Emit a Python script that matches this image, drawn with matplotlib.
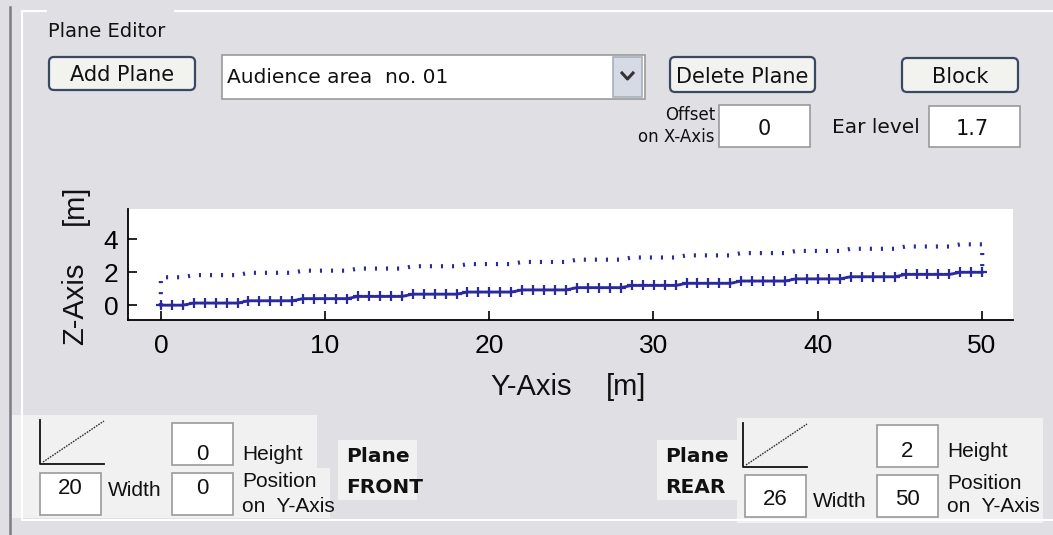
import numpy as np
import matplotlib.pyplot as plt
from matplotlib.patches import Rectangle, FancyBboxPatch

# seating steps: floor level of each step [m] and rows on it
step_levels = [0.0, 0.13, 0.27, 0.40, 0.53, 0.67, 0.80, 0.93,
               1.07, 1.20, 1.33, 1.47, 1.60, 1.73, 1.87, 2.0]
rows_per_step = [3, 5, 5, 5, 5, 5, 5, 5, 5, 5, 5, 5, 5, 5, 5, 3]
row_pitch = 0.667          # m between rows along Y
ear_level = 1.7            # m above floor

x_ticks = [0, 10, 20, 30, 40, 50]
z_ticks = [0, 2, 4]

# GUI field values
offset_x = '0'
front_vals = {'height': '0', 'width': '20', 'pos': '0'}
rear_vals = {'height': '2', 'width': '26', 'pos': '50'}
plane_name = 'Audience area  no. 01'

BG = '#e0dfe3'
PANEL = '#f1f1f1'
BLUE = '#2a2a9e'
SANS = ['Liberation Sans', 'DejaVu Sans']
REG = ['DejaVu Sans']

floor_z = np.repeat(step_levels, rows_per_step)
row_y = np.arange(len(floor_z)) * row_pitch
ear_z = floor_z + ear_level

fig = plt.figure(figsize=(10.53, 5.35), dpi=100, facecolor=BG)

# overlay in pixel coords for the GUI bits
g = fig.add_axes([0, 0, 1, 1], zorder=0)
g.set_xlim(0, 1053)
g.set_ylim(535, 0)
g.axis('off')
g.set_facecolor(BG)


def box(x0, y0, x1, y1, fc='white', ec='#9a9a9a', lw=1.2):
    g.add_patch(Rectangle((x0, y0), x1 - x0, y1 - y0, fc=fc, ec=ec, lw=lw))


def button(x0, y0, x1, y1, label, cx):
    g.add_patch(FancyBboxPatch((x0, y0), x1 - x0, y1 - y0,
                               boxstyle='round,pad=0,rounding_size=5',
                               fc='#f2f2ee', ec='#3b4862', lw=1.6))
    g.text(cx, y1 - 9, label, ha='center', va='baseline', fontsize=15,
           family=REG, color='#111111')


def txt(x, y, s, size=12, ha='left', family=SANS, weight='normal'):
    g.text(x, y, s, ha=ha, va='baseline', fontsize=size, family=family,
           weight=weight, color='#111111')


# frame and group box
g.plot([10, 10], [7, 535], color='#7c7c86', lw=1.8)
g.plot([22, 46], [11, 11], color='white', lw=1.5)
g.plot([175, 1053], [11, 11], color='white', lw=1.5)
g.plot([22, 22], [11, 520], color='white', lw=1.5)
g.plot([22, 1053], [520, 520], color='white', lw=1.5)
txt(48, 37, 'Plane Editor', size=14, family=REG)

# top row
button(49, 57, 195, 90, 'Add Plane', 122)
box(222, 55, 645, 99)
txt(227, 83, plane_name, size=14.5, family=REG)
box(613, 57, 642, 97, fc='#d6dae5', ec='#a8aebb')
g.plot([622, 627.5, 633], [73, 79, 73], color='#333333', lw=2.2)
button(670, 57, 815, 92, 'Delete Plane', 742)
button(902, 58, 1018, 92, 'Block', 960)

txt(715, 120, 'Offset', size=12, ha='right', family=REG)
txt(715, 142, 'on X-Axis', size=12, ha='right', family=REG)
box(719, 105, 810, 147)
txt(764, 135, offset_x, size=15, ha='center', family=REG)
txt(832, 133, 'Ear level', size=14.5, family=REG)
box(929, 106, 1020, 147)
txt(972, 135, str(ear_level), size=15, ha='center', family=REG)

# z / y axis titles
g.text(83, 345, 'Z-Axis', rotation=90, rotation_mode='anchor', ha='left',
       va='baseline', fontsize=21, family=SANS, color='#111111')
g.text(83, 225, '[m]', rotation=90, rotation_mode='anchor', ha='left',
       va='baseline', fontsize=21, family=SANS, color='#111111')
txt(490, 395, 'Y-Axis', size=21)
txt(606, 395, '[m]', size=21)


def plane_panel(side):
    if side == 'front':
        g.add_patch(Rectangle((12, 415), 305, 103, fc=PANEL, ec='none'))
        g.add_patch(Rectangle((232, 468), 98, 50, fc=PANEL, ec='none'))
        g.add_patch(Rectangle((338, 440), 79, 60, fc=PANEL, ec='none'))
        ix, hx, wx, ly = 40, 172, 40, 0
        vals = front_vals
        tx, tag = 346, 'FRONT'
        hy = (423, 465, 460)
        ry = (473, 515, 494)
    else:
        g.add_patch(Rectangle((737, 418), 306, 105, fc=PANEL, ec='none'))
        g.add_patch(Rectangle((657, 440), 80, 60, fc=PANEL, ec='none'))
        ix, hx, wx, ly = 743, 877, 745, 3
        vals = rear_vals
        tx, tag = 665, 'REAR'
        hy = (425, 467, 457)
        ry = (475, 517, 505)
    # small slope icon
    g.plot([ix, ix, ix + 64], [420 + ly, 464 + ly, 464 + ly], color='#111111', lw=1.3)
    g.plot([ix + 3, ix + 64], [462 + ly, 421 + ly], color='#333333', lw=1.0,
           linestyle=(0, (1.2, 0.8)))
    # height
    box(hx, hy[0], hx + 61, hy[1])
    txt(hx + 30, hy[2], vals['height'], size=16, ha='center')
    txt(hx + 70, hy[2], 'Height', size=15)
    # width
    box(wx, ry[0], wx + 61, ry[1])
    txt(wx + 30, ry[2], vals['width'], size=16, ha='center')
    txt(wx + 68, ry[2] + 2, 'Width', size=15)
    # position
    box(hx, ry[0], hx + 61, ry[1])
    txt(hx + 30, ry[2], vals['pos'], size=16, ha='center')
    txt(hx + 70, ry[0] + 14, 'Position', size=15)
    txt(hx + 70, 512, 'on  Y-Axis', size=15)
    # plane tag
    txt(tx, 462, 'Plane', size=14.5, family=REG, weight='bold')
    txt(tx, 493, tag, size=14.5, family=REG, weight='bold')


plane_panel('front')
plane_panel('rear')

# the profile plot
W, H = 1053, 535
ax = fig.add_axes([128 / W, (H - 320) / H, (1013 - 128) / W, (320 - 209) / H],
                  zorder=2)
ax.set_facecolor('white')
ax.plot(row_y, floor_z, color=BLUE, lw=2.0, marker='+', ms=7, mew=1.6)
ear_y = np.concatenate([[row_y[0]], row_y, [row_y[-1]]])
ear_zz = np.concatenate([[floor_z[0]], ear_z, [floor_z[-1]]])
ax.plot(ear_y, ear_zz, color=BLUE, lw=3.0, dash_capstyle='butt',
        linestyle=(0, (0.5, 2.15)))
ax.set_xlim(-2, 51.9)
ax.set_ylim(-0.9, 5.85)
ax.set_xticks(x_ticks)
ax.set_yticks(z_ticks)
for s in ['top', 'right']:
    ax.spines[s].set_visible(False)
for s in ['left', 'bottom']:
    ax.spines[s].set_linewidth(1.3)
ax.tick_params(direction='in', length=6.5, width=1.2, labelsize=19)
ax.tick_params(axis='x', pad=10)
ax.tick_params(axis='y', pad=7)
for lab in ax.get_xticklabels() + ax.get_yticklabels():
    lab.set_family(SANS)

fig.savefig('out.png', dpi=100, facecolor=BG)
